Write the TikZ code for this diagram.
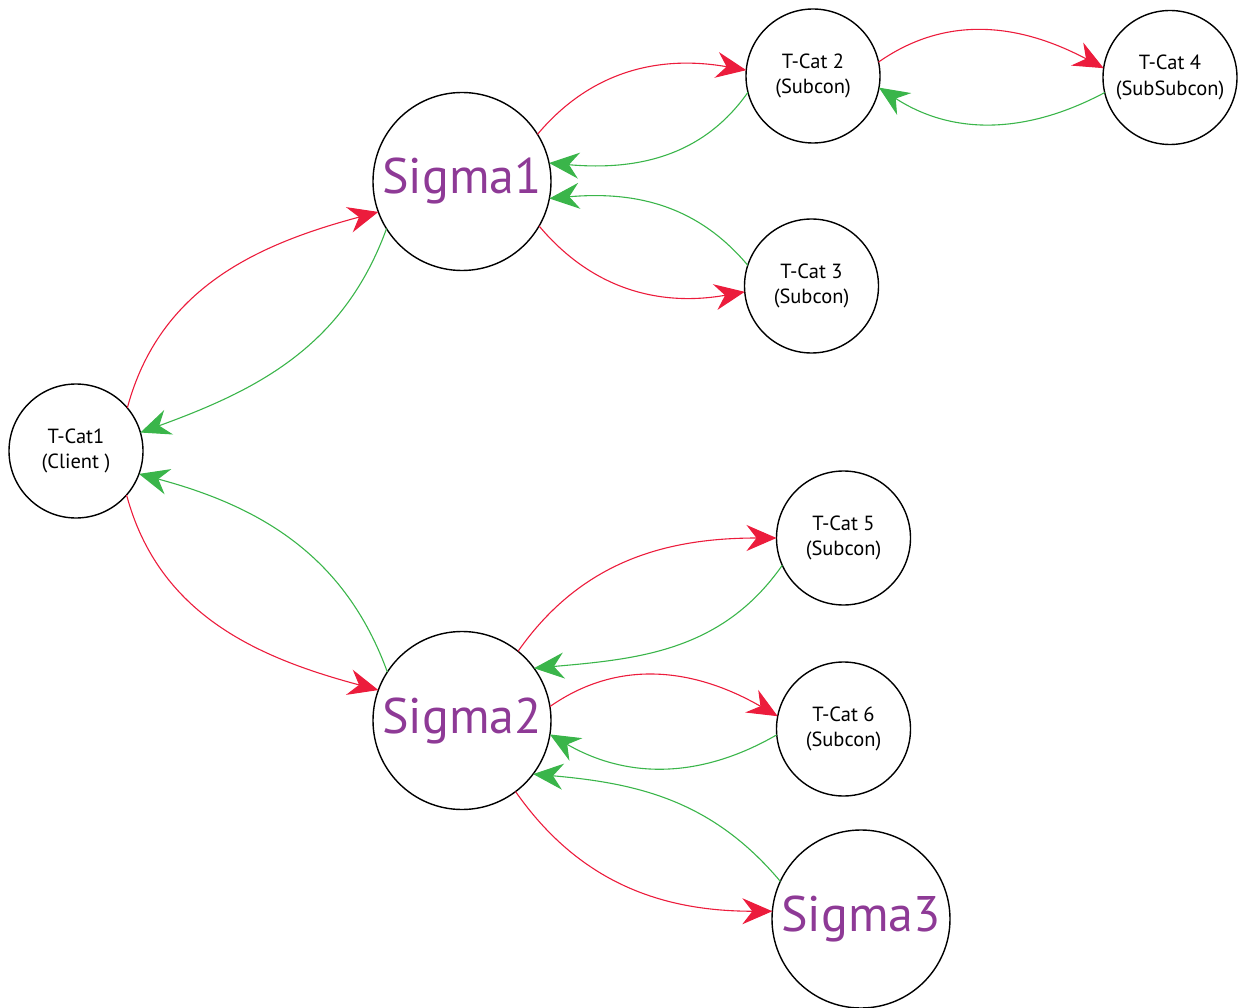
\documentclass[tikz,border=0pt]{standalone}
\usepackage{fontspec}
\setmainfont{PT Sans}
\usetikzlibrary{arrows.meta}
\definecolor{cred}{HTML}{EC1C3C}
\definecolor{cgreen}{HTML}{3AB54A}
\definecolor{cpurple}{HTML}{8E3A96}
\begin{document}
\begin{tikzpicture}[x=1pt,y=1pt,
  small/.style={circle,draw,line width=1.4pt,minimum size=134pt,inner sep=0pt,outer sep=0pt,align=center,font=\fontsize{20.5}{25.5}\selectfont},
  big/.style={circle,draw,line width=1.4pt,minimum size=178pt,inner sep=0pt,outer sep=0pt,text=cpurple,font=\fontsize{50}{60}\selectfont},
  ra/.style={draw=cred,line width=1.1pt,-{Stealth[length=30pt,width=26pt,inset=10pt,fill=cred]}},
  ga/.style={draw=cgreen,line width=1.1pt,-{Stealth[length=30pt,width=26pt,inset=10pt,fill=cgreen]}}]
\useasboundingbox (0,0) rectangle (1240,-1008);
\node[small] (c1) at (76,-451) {T-Cat1\\(Client )};
\node[big]   (s1) at (462,-181.5) {Sigma1};
\node[small] (c2) at (813,-76) {T-Cat 2\\(Subcon)};
\node[small] (c4) at (1170,-77.5) {T-Cat 4\\(SubSubcon)};
\node[small] (c3) at (811.5,-286) {T-Cat 3\\(Subcon)};
\node[small] (c5) at (843.5,-538) {T-Cat 5\\(Subcon)};
\node[small] (c6) at (843.5,-729) {T-Cat 6\\(Subcon)};
\node[big]   (s2) at (462,-720.5) {Sigma2};
\node[big]   (s3) at (861,-919) {Sigma3};

\draw[ra] (c1.40) to[out=75,in=195] (s1.200);
\draw[ga] (s1.212) to[out=250,in=20] (c1.16);
\draw[ga] (s2.147) to[out=110,in=-15] (c1.-20);
\draw[ra] (c1.-41) to[out=-75,in=165] (s2.160);
\draw[ra] (s1.32) to[out=50,in=170] (c2.175);
\draw[ga] (c2.194) to[out=235,in=-5] (s1.12);
\draw[ga] (c3.162) to[out=130,in=5] (s1.-11);
\draw[ra] (s1.-30) to[out=-50,in=190] (c3.185);
\draw[ra] (c2.12) to[out=35,in=152] (c4.172);
\draw[ga] (c4.193) to[out=208,in=-33] (c2.-10);
\draw[ra] (s2.51) to[out=55,in=180] (c5.180);
\draw[ga] (c5.204) to[out=235,in=5] (s2.36);
\draw[ra] (s2.9) to[out=35,in=150] (c6.169);
\draw[ga] (c6.185) to[out=210,in=-30] (s2.-9);
\draw[ga] (s3.155) to[out=130,in=-5] (s2.-37);
\draw[ra] (s2.-53) to[out=-55,in=180] (s3.175);
\end{tikzpicture}
\end{document}
